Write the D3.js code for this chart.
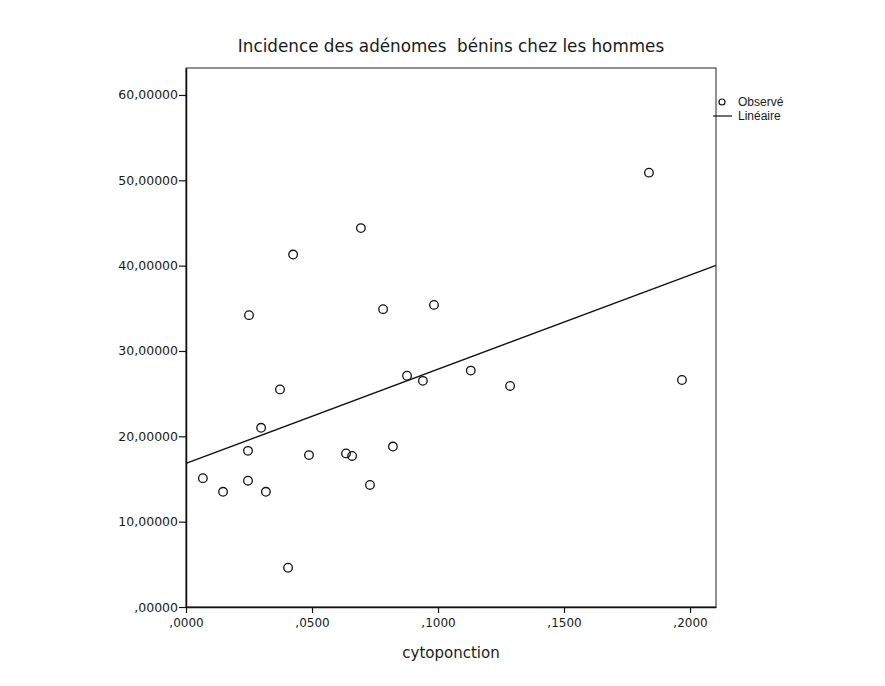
<!DOCTYPE html>
<html><head><meta charset="utf-8">
<script src="https://cdn.jsdelivr.net/npm/d3@7"></script>
<style>body{margin:0;background:#fff}svg{display:block}text{font-family:"DejaVu Sans",sans-serif;fill:#1a1a1a}</style>
</head><body>
<script>
const title = "Incidence des adénomes  bénins chez les hommes";
const xLabel = "cytoponction";
const cytoponction = [0.0067,0.0147,0.0246,0.0246,0.0250,0.0298,0.0317,0.0373,0.0405,0.0425,0.0488,0.0635,0.0659,0.0694,0.0730,0.0782,0.0821,0.0877,0.0940,0.0984,0.1130,0.1286,0.1837,0.1968];
const incidence = [15.1,13.5,18.3,14.8,34.2,21.0,13.5,25.5,4.6,41.3,17.8,18.0,17.7,44.4,14.3,34.9,18.8,27.1,26.5,35.4,27.7,25.9,50.9,26.6];
const xTicks = [0,0.05,0.10,0.15,0.20];
const yTicks = [0,10,20,30,40,50,60];
const fitLine = [16.84, 110.3]; // intercept, slope
const legendLabels = ["Observé","Linéaire"];

const W=885,H=686;
const svg=d3.select("body").append("svg").attr("width",W).attr("height",H);
const x=d3.scaleLinear().domain([0,0.2103]).range([186,716]);
const y=d3.scaleLinear().domain([0,63.16]).range([607,68]);

svg.append("rect").attr("x",186).attr("y",68).attr("width",530).attr("height",539)
  .attr("fill","none").attr("stroke","#222").attr("stroke-width",1);

const fmtX=d=>","+d3.format(".4f")(d).replace("0.","");
const fmtY=d=>d3.format(".5f")(d).replace(".",",").replace(/^0,/ ,",");

const gx=svg.append("g").attr("transform","translate(0,607)")
  .call(d3.axisBottom(x).tickValues(xTicks).tickFormat(fmtX).tickSize(6).tickSizeOuter(0).tickPadding(5));
gx.select(".domain").attr("stroke","#111").attr("stroke-width",1.5);
gx.selectAll(".tick line").attr("stroke","#111").attr("stroke-width",1.2);
gx.selectAll("text").style("font-size","12px").style("font-family","DejaVu Sans").attr("fill","#1a1a1a");

const gy=svg.append("g").attr("transform","translate(186,0)")
  .call(d3.axisLeft(y).tickValues(yTicks).tickFormat(fmtY).tickSize(7).tickSizeOuter(0).tickPadding(1));
gy.select(".domain").attr("stroke","#111").attr("stroke-width",1.5);
gy.selectAll(".tick line").attr("stroke","#111").attr("stroke-width",1.2);
gy.selectAll("text").style("font-size","12.5px").style("font-family","DejaVu Sans").attr("fill","#1a1a1a");

const x0=x.domain()[0], x1=x.domain()[1];
svg.append("line").attr("x1",x(x0)).attr("y1",y(fitLine[0]+fitLine[1]*x0))
  .attr("x2",x(x1)).attr("y2",y(fitLine[0]+fitLine[1]*x1))
  .attr("stroke","#111").attr("stroke-width",1.4);

svg.append("g").selectAll("circle").data(cytoponction.map((c,i)=>[c,incidence[i]])).join("circle")
  .attr("cx",d=>x(d[0])).attr("cy",d=>y(d[1])).attr("r",4.3)
  .attr("fill","none").attr("stroke","#111").attr("stroke-width",1.3);

svg.append("text").attr("x",451).attr("y",52).attr("text-anchor","middle").style("font-size","16.8px")
  .style("white-space","pre").attr("xml:space","preserve").text(title);
svg.append("text").attr("x",451).attr("y",658).attr("text-anchor","middle").style("font-size","15px").text(xLabel);

const lg=svg.append("g");
lg.append("circle").attr("cx",722).attr("cy",102).attr("r",3).attr("fill","none").attr("stroke","#111").attr("stroke-width",1.2);
lg.append("text").attr("x",738).attr("y",102).attr("dy","0.35em").style("font-size","12px").style("font-family","Liberation Sans").text(legendLabels[0]);
lg.append("line").attr("x1",713).attr("x2",732).attr("y1",116).attr("y2",116).attr("stroke","#111").attr("stroke-width",1.2);
lg.append("text").attr("x",738).attr("y",116).attr("dy","0.35em").style("font-size","12px").style("font-family","Liberation Sans").text(legendLabels[1]);
</script>
</body></html>
